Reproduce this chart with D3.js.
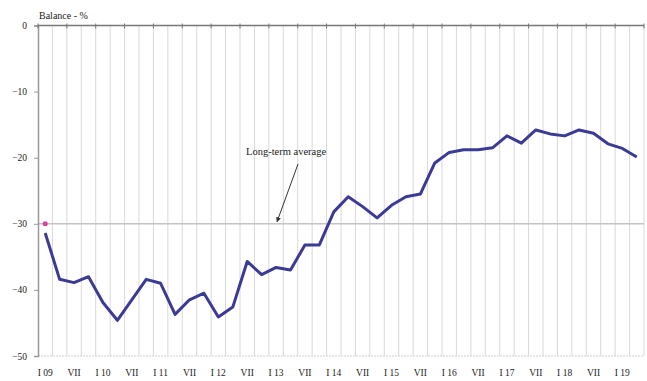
<!DOCTYPE html>
<html>
<head>
<meta charset="utf-8">
<script src="https://cdn.jsdelivr.net/npm/d3@7"></script>
<style>
  html, body { margin: 0; padding: 0; background: #fff; }
  svg { display: block; }
  text { font-family: "Liberation Serif", "Times New Roman", serif; fill: #222; }
</style>
</head>
<body>
<svg id="chart" width="647" height="381"></svg>
<script>
const quarters = [
  "I 09","IV","VII","X","I 10","IV","VII","X","I 11","IV","VII","X",
  "I 12","IV","VII","X","I 13","IV","VII","X","I 14","IV","VII","X",
  "I 15","IV","VII","X","I 16","IV","VII","X","I 17","IV","VII","X",
  "I 18","IV","VII","X","I 19","IV"
];
const balance = [
  -31.4, -38.4, -38.9, -38.0, -41.9, -44.6, -41.5, -38.4, -39.0, -43.7, -41.5, -40.5,
  -44.1, -42.6, -35.7, -37.7, -36.6, -37.0, -33.2, -33.2, -28.2, -25.9, -27.4, -29.1,
  -27.2, -25.9, -25.5, -20.8, -19.2, -18.8, -18.8, -18.5, -16.7, -17.8, -15.8, -16.4,
  -16.7, -15.8, -16.3, -17.9, -18.6, -19.9
];
const yTicks = [0, -10, -20, -30, -40, -50];
const longTermAverage = -30;
const yTitle = "Balance - %";
const annotationText = "Long-term average";

const svg = d3.select("#chart");
const mLeft = 38, mRight = 644, mTop = 25.5, mBottom = 356;

const x = d3.scaleBand().domain(quarters.map((d, i) => i)).range([mLeft, mRight]).padding(0);
const y = d3.scaleLinear().domain([-50, 0]).range([mBottom, mTop]);
const cx = i => x(i) + x.bandwidth() / 2;

// vertical gridlines at category boundaries
const bounds = d3.range(quarters.length + 1).map(i => i === quarters.length ? mRight : x(i));
svg.append("g").selectAll("line").data(bounds.slice(1)).join("line")
  .attr("x1", d => d).attr("x2", d => d)
  .attr("y1", mTop).attr("y2", mBottom)
  .attr("stroke", "#d9d9d9").attr("stroke-width", 1);

// bottom gridline
svg.append("line")
  .attr("x1", mLeft).attr("x2", mRight).attr("y1", y(-50)).attr("y2", y(-50))
  .attr("stroke", "#cfcfcf").attr("stroke-width", 1).attr("stroke-dasharray", "2,1");

// long-term average line
svg.append("line")
  .attr("x1", mLeft).attr("x2", mRight)
  .attr("y1", y(longTermAverage)).attr("y2", y(longTermAverage))
  .attr("stroke", "#c4c4c4").attr("stroke-width", 1.5);

// y axis
const yAxis = d3.axisLeft(y).tickValues(yTicks).tickSize(4).tickFormat(d3.format("d"));
const gy = svg.append("g").attr("transform", `translate(${mLeft},0)`).call(yAxis);
gy.select(".domain").attr("stroke", "#999").attr("stroke-width", 1.5);
gy.selectAll(".tick line").attr("stroke", "#999");
gy.selectAll(".tick text").attr("font-size", 9.5).attr("fill", "#222")
  .attr("font-family", "Liberation Serif, serif").attr("x", -11);

// x axis line at 0 with tick marks at boundaries
svg.append("line")
  .attr("x1", mLeft).attr("x2", mRight).attr("y1", y(0)).attr("y2", y(0))
  .attr("stroke", "#777").attr("stroke-width", 1.5);
svg.append("g").selectAll("line").data(bounds.filter((d, i) => i % 2 === 0)).join("line")
  .attr("x1", d => d).attr("x2", d => d)
  .attr("y1", y(0) - 2).attr("y2", y(0) + 3)
  .attr("stroke", "#777");

// x labels (every second category) at bottom
svg.append("g").selectAll("text").data(quarters.map((q, i) => ({q, i})).filter(d => d.i % 2 === 0)).join("text")
  .attr("x", d => cx(d.i)).attr("y", 376)
  .attr("text-anchor", "middle").attr("font-size", 9.5).attr("fill", "#222")
  .text(d => d.q);

// y title
svg.append("text").attr("x", 39).attr("y", 19).attr("font-size", 10).attr("fill", "#222").text(yTitle);

// data line
const line = d3.line().x((d, i) => cx(i)).y(d => y(d));
svg.append("path").datum(balance)
  .attr("d", line).attr("fill", "none")
  .attr("stroke", "#3b3b96").attr("stroke-width", 3).attr("stroke-linejoin", "round");

// pink marker for long-term average
svg.append("circle").attr("cx", cx(0)).attr("cy", y(longTermAverage)).attr("r", 2.5).attr("fill", "#e0409a");

// annotation
svg.append("text").attr("x", 246).attr("y", 155).attr("font-size", 10.5).attr("fill", "#222").text(annotationText);
const defs = svg.append("defs");
defs.append("marker").attr("id", "arr").attr("viewBox", "0 0 10 10").attr("refX", 9).attr("refY", 5)
  .attr("markerWidth", 5).attr("markerHeight", 5).attr("orient", "auto")
  .append("path").attr("d", "M0,0 L10,5 L0,10 z").attr("fill", "#333");
svg.append("line")
  .attr("x1", 298).attr("y1", 164)
  .attr("x2", 277).attr("y2", y(longTermAverage) - 2)
  .attr("stroke", "#333").attr("stroke-width", 1).attr("marker-end", "url(#arr)");
</script>
</body>
</html>
